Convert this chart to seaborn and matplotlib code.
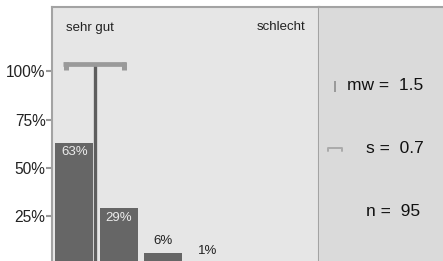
import matplotlib
matplotlib.use("Agg")
import matplotlib.pyplot as plt
import seaborn as sns
import pandas as pd

categories = ["1", "2", "3", "4", "5", "6"]
shares = [0.63, 0.29, 0.06, 0.01, 0.0, 0.0]
share_labels = ["63%", "29%", "6%", "1%", "", ""]
mean_value = 1.46
std_value = 0.71
n_value = 95
ytick_values = [0.25, 0.50, 0.75, 1.00]
ytick_labels = ["25%", "50%", "75%", "100%"]
left_label = "sehr gut"
right_label = "schlecht"

sns.set_theme(style="white")
plt.rcParams['font.family'] = ['Liberation Sans', 'DejaVu Sans']

W, H = 443, 261
fig = plt.figure(figsize=(W / 100, H / 100), dpi=100)
top_px = 7
ax = fig.add_axes([52 / W, 0, (319 - 52) / W, 1 - top_px / H])
axr = fig.add_axes([319 / W, 0, (443 - 319) / W, 1 - top_px / H])

bg_main = "#e6e6e6"
bg_right = "#dadada"
border = "#a3a3a3"
ax.set_facecolor(bg_main)
axr.set_facecolor(bg_right)

df = pd.DataFrame({"cat": categories, "share": shares})
sns.barplot(data=df, x="cat", y="share", color="#666666", saturation=1,
            width=0.86, ax=ax, edgecolor="none")

ax.set_xlim(-0.5, 5.5)
ax.set_ylim(0.018, 1.332)

for i, (v, lab) in enumerate(zip(shares, share_labels)):
    if not lab:
        continue
    if v > 0.15:
        ax.annotate(lab, (i, v), xytext=(0, -6.7), textcoords="offset points",
                    ha="center", va="center", fontsize=9.5, color="#ececec",
                    annotation_clip=False)
    else:
        ax.annotate(lab, (i, v), xytext=(0, 8.6), textcoords="offset points",
                    ha="center", va="center", fontsize=9.5, color="#222222",
                    annotation_clip=False)

# mean line and std bracket
mpos = mean_value - 1
ax.plot([mpos, mpos], [0, 1.03], color="#5e5e5e", lw=2.4, solid_capstyle="butt", zorder=4)
lo, hi = mpos - std_value, mpos + std_value
ax.plot([lo, hi], [1.037, 1.037], color="#9a9a9a", lw=3.4,
        solid_capstyle="butt", zorder=5)
edge = 0.055
for xe in (lo + edge, hi - edge):
    ax.plot([xe, xe], [1.045, 1.004], color="#9a9a9a", lw=3.6,
            solid_capstyle="butt", zorder=5)

ax.text(-0.19, 1.223, left_label, ha="left", va="center", fontsize=9.5, color="#222222")
ax.text(5.2, 1.228, right_label, ha="right", va="center", fontsize=9.5, color="#222222")

ax.set_yticks(ytick_values)
ax.set_yticklabels(ytick_labels)
ax.set_xticks([])
ax.set_xlabel("")
ax.set_ylabel("")
ax.tick_params(axis="y", length=4.3, width=1.5, color="#999999", labelsize=11.2,
               labelcolor="#222222", pad=0.3, left=True)

for s in ["left", "top", "right"]:
    ax.spines[s].set_visible(True)
    ax.spines[s].set_color(border)
    ax.spines[s].set_linewidth(1.5)
ax.spines["bottom"].set_visible(False)

axr.set_xlim(0, 1)
axr.set_ylim(0, 1)
axr.set_xticks([])
axr.set_yticks([])
for s in ["left", "bottom", "right"]:
    axr.spines[s].set_visible(False)
axr.spines["top"].set_color(border)
axr.spines["top"].set_linewidth(1.5)

stat_kw = dict(ha="left", va="center", fontsize=12.5, color="#111111")
axr.text(0.223, 0.689, f"mw =  {mean_value:.1f}", **stat_kw)
axr.text(0.383, 0.443, f"s =  {std_value:.1f}", **stat_kw)
axr.text(0.376, 0.193, f"n =  {n_value}", **stat_kw)

# legend icons
axr.plot([0.129, 0.129], [0.667, 0.707], color="#999999", lw=1.4, solid_capstyle="butt")
axr.plot([0.07, 0.07, 0.185, 0.185], [0.434, 0.446, 0.446, 0.434], color="#aaaaaa", lw=1.4)

fig.savefig("out.png", dpi=100, facecolor="white")
